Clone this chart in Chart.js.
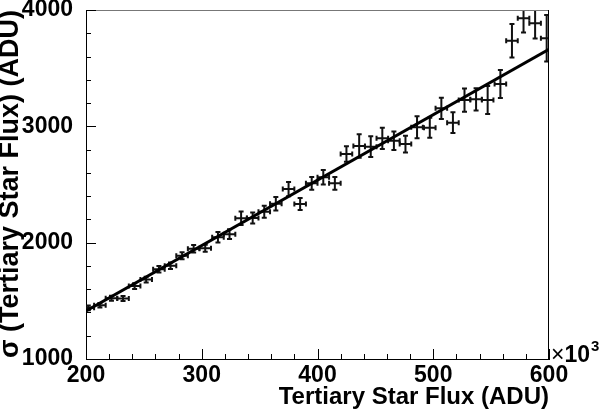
<!DOCTYPE html>
<html>
<head>
<meta charset="utf-8">
<script src="https://cdn.jsdelivr.net/npm/chart.js@4.4.1/dist/chart.umd.min.js"></script>
<style>
  body { margin: 0; background: #fff; }
  #wrap { width: 600px; height: 411px; position: relative; }
</style>
</head>
<body>
<div id="wrap"><canvas id="chart"></canvas></div>
<script>
// tertiary star flux (x10^3 ADU), bin centres
var flux = [202, 212, 222, 232, 242, 252, 263, 273, 283, 293,
            303, 314, 324, 334, 344, 354, 364, 375, 385, 395,
            405, 415, 425, 436, 446, 456, 466, 476, 486, 497,
            507, 517, 527, 537, 547, 558, 568, 578, 588, 598];
// sigma of the tertiary star flux (ADU)
var sigma = [1440, 1462, 1522, 1520, 1627, 1683, 1772, 1801, 1887, 1947,
             1952, 2046, 2073, 2209, 2212, 2266, 2335, 2461, 2332, 2510,
             2562, 2510, 2762, 2831, 2825, 2897, 2876, 2848, 2992, 2987,
             3155, 3031, 3226, 3232, 3226, 3364, 3736, 3929, 3886, 3757];
var sigmaErr = [20, 20, 22, 22, 25, 25, 28, 28, 30, 32,
                30, 45, 42, 58, 48, 52, 58, 61, 52, 55,
                63, 55, 67, 100, 89, 91, 80, 72, 94, 86,
                91, 89, 100, 95, 120, 120, 144, 122, 132, 200];
var binHalfWidth = 5;
// linear fit
var fitX = [200, 600];
var fitY = [1413, 3662];
// axis labels
var xMajor = [200, 300, 400, 500, 600];
var yMajor = [1000, 2000, 3000, 4000];

var points = flux.map(function(x, i) { return {x: x, y: sigma[i]}; });
var fitLine = fitX.map(function(x, i) { return {x: x, y: fitY[i]}; });

// ROOT style error crosses with small end caps
var errorBars = {
  id: 'errorBars',
  beforeDatasetsDraw: function(chart) {
    var ctx = chart.ctx, a = chart.chartArea;
    var xs = chart.scales.x, ys = chart.scales.y;
    var cap = 2.5;
    ctx.save();
    ctx.beginPath();
    ctx.rect(a.left, a.top, a.right - a.left, a.bottom - a.top);
    ctx.clip();
    ctx.strokeStyle = '#111';
    ctx.lineWidth = 2;
    points.forEach(function(p, i) {
      var px = xs.getPixelForValue(p.x), py = ys.getPixelForValue(p.y);
      var l = xs.getPixelForValue(p.x - binHalfWidth), r = xs.getPixelForValue(p.x + binHalfWidth);
      var t = ys.getPixelForValue(p.y + sigmaErr[i]), b = ys.getPixelForValue(p.y - sigmaErr[i]);
      ctx.beginPath();
      ctx.moveTo(l, py); ctx.lineTo(r, py);
      ctx.moveTo(px, t); ctx.lineTo(px, b);
      ctx.moveTo(l, py - cap); ctx.lineTo(l, py + cap);
      ctx.moveTo(r, py - cap); ctx.lineTo(r, py + cap);
      ctx.moveTo(px - cap, t); ctx.lineTo(px + cap, t);
      ctx.moveTo(px - cap, b); ctx.lineTo(px + cap, b);
      ctx.stroke();
    });
    ctx.restore();
  }
};

// inward ticks, frame and the x10^3 exponent
var frameTicks = {
  id: 'frameTicks',
  afterDraw: function(chart) {
    var ctx = chart.ctx, a = chart.chartArea;
    var xs = chart.scales.x, ys = chart.scales.y;
    ctx.save();
    ctx.lineWidth = 1;
    ctx.strokeStyle = '#777';
    ctx.beginPath();
    ctx.moveTo(a.left, a.top + 0.5); ctx.lineTo(a.right, a.top + 0.5);
    ctx.stroke();
    ctx.strokeStyle = '#000';
    ctx.beginPath();
    ctx.moveTo(a.right - 0.5, a.top); ctx.lineTo(a.right - 0.5, a.bottom);
    xs.ticks.forEach(function(t) {
      var px = Math.round(xs.getPixelForValue(t.value)) + 0.5;
      var len = xMajor.indexOf(t.value) >= 0 ? 10 : 5;
      ctx.moveTo(px, a.bottom); ctx.lineTo(px, a.bottom - len);
    });
    ys.ticks.forEach(function(t) {
      var py = Math.round(ys.getPixelForValue(t.value)) + 0.5;
      var len = yMajor.indexOf(t.value) >= 0 ? 10 : 5;
      ctx.moveTo(a.left, py); ctx.lineTo(a.left + len, py);
    });
    ctx.stroke();

    ctx.fillStyle = '#000';
    ctx.textBaseline = 'alphabetic';
    ctx.textAlign = 'left';
    ctx.font = '23px "Liberation Sans"';
    ctx.fillText('\u00d7', a.right + 2, a.bottom + 3);
    var w = ctx.measureText('\u00d7').width;
    ctx.font = 'bold 23px "Liberation Sans"';
    ctx.fillText('10', a.right + 2 + w, a.bottom + 3);
    var w2 = ctx.measureText('10').width;
    ctx.font = 'bold 15px "Liberation Sans"';
    ctx.fillText('3', a.right + 3 + w + w2, a.bottom - 8);
    ctx.restore();
  }
};

new Chart(document.getElementById('chart'), {
  type: 'scatter',
  data: {
    datasets: [
      {
        label: 'sigma',
        data: points,
        pointRadius: 0,
        showLine: false
      },
      {
        type: 'line',
        label: 'fit',
        data: fitLine,
        borderColor: '#000',
        borderWidth: 3,
        pointRadius: 0,
        fill: false
      }
    ]
  },
  options: {
    responsive: true,
    maintainAspectRatio: false,
    animation: false,
    layout: { padding: { top: 10, right: 51, left: 0, bottom: 0 } },
    plugins: {
      legend: { display: false },
      tooltip: { enabled: false }
    },
    scales: {
      x: {
        type: 'linear',
        min: 200,
        max: 600,
        grid: { display: false },
        border: { display: true, color: '#000', width: 1 },
        ticks: {
          stepSize: 20,
          autoSkip: false,
          maxRotation: 0,
          padding: -3,
          color: '#000',
          font: { family: 'Liberation Sans', weight: 'bold', size: 23, lineHeight: 1 },
          callback: function(v) { return xMajor.indexOf(v) >= 0 ? String(v) : ''; }
        },
        title: {
          display: true,
          text: 'Tertiary Star Flux (ADU)',
          align: 'end',
          color: '#000',
          padding: 0,
          font: { family: 'Liberation Sans', weight: 'bold', size: 24, lineHeight: 1.1 }
        },
        afterFit: function(s) { s.height = 52; s.paddingLeft = 0; s.paddingRight = 0; }
      },
      y: {
        min: 1000,
        max: 4000,
        grid: { display: false },
        border: { display: true, color: '#000', width: 1 },
        ticks: {
          stepSize: 200,
          autoSkip: false,
          padding: 5,
          color: '#000',
          font: { family: 'Liberation Sans', weight: 'bold', size: 23, lineHeight: 1 },
          callback: function(v) { return yMajor.indexOf(v) >= 0 ? String(v) : ''; }
        },
        title: {
          display: true,
          text: '\u03c3 (Tertiary Star Flux) (ADU)',
          align: 'end',
          color: '#000',
          padding: 0,
          font: { family: 'Liberation Sans', weight: 'bold', size: 27, lineHeight: 0.76 }
        },
        afterFit: function(s) { s.width = 86; s.paddingTop = 0; s.paddingBottom = 0; }
      }
    }
  },
  plugins: [errorBars, frameTicks]
});
</script>
</body>
</html>
